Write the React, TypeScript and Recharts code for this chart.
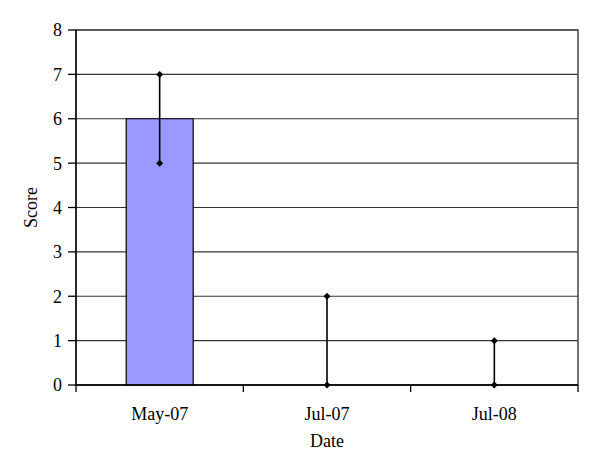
import {
  ComposedChart,
  Bar,
  ErrorBar,
  Scatter,
  XAxis,
  YAxis,
  CartesianGrid,
  ReferenceArea,
  Label,
} from "recharts";

const dates = ["May-07", "Jul-07", "Jul-08"];
const scores = [6, 0, 0];
const lowBounds = [5, 0, 0];
const highBounds = [7, 2, 1];
const yTicks = [0, 1, 2, 3, 4, 5, 6, 7, 8];

const data = dates.map((date, i) => ({
  date,
  score: scores[i],
  low: lowBounds[i],
  high: highBounds[i],
  err: [scores[i] - lowBounds[i], highBounds[i] - scores[i]],
}));

const FONT = "'Liberation Serif', 'DejaVu Serif', serif";

function Diamond(props: any) {
  const { cx, cy } = props;
  if (cx == null || cy == null) return null;
  const r = 3.5;
  return (
    <polygon
      points={`${cx},${cy - r} ${cx + r},${cy} ${cx},${cy + r} ${cx - r},${cy}`}
      fill="#000"
    />
  );
}

const Empty = () => null;

function DateTick(props: any) {
  const { x, y, payload, index } = props;
  const half = payload?.offset ?? 0;
  return (
    <g>
      {index === 0 && (
        <line x1={x - half} y1={y - 8} x2={x - half} y2={y - 1} stroke="#000" strokeWidth={1.3} />
      )}
      <line x1={x + half} y1={y - 8} x2={x + half} y2={y - 1} stroke="#000" strokeWidth={1.3} />
      <text
        x={x}
        y={y + 27}
        textAnchor="middle"
        fontFamily={FONT}
        fontSize={18}
        fill="#000"
      >
        {payload.value}
      </text>
    </g>
  );
}

export default function App() {
  return (
    <div style={{ position: "absolute", left: 0, top: 0, background: "#fff" }}>
      <ComposedChart
        width={600}
        height={473}
        data={data}
        margin={{ top: 30, right: 22, left: 0, bottom: 0 }}
        barCategoryGap="30%"
      >
        <CartesianGrid vertical={false} stroke="#333" strokeWidth={1.2} />
        <ReferenceArea
          y1={0}
          y2={8}
          fill="none"
          stroke="#444"
          strokeWidth={1.5}
          ifOverflow="visible"
        />
        <XAxis
          dataKey="date"
          height={88}
          tickLine={false}
          axisLine={{ stroke: "#000", strokeWidth: 1.3 }}
          tick={<DateTick />}
          interval={0}
        >
          <Label
            value="Date"
            position="insideTop"
            offset={49}
            fill="#000"
            stroke="none"
            style={{ fontFamily: FONT, fontSize: 18, fill: "#000" }}
          />
        </XAxis>
        <YAxis
          width={76}
          domain={[0, 8]}
          ticks={yTicks}
          interval={0}
          tickSize={8}
          tickMargin={6}
          tickLine={{ stroke: "#000", strokeWidth: 1.3 }}
          axisLine={{ stroke: "#000", strokeWidth: 1.3 }}
          tick={{ fontFamily: FONT, fontSize: 18, fill: "#000" }}
        >
          <Label
            value="Score"
            angle={-90}
            position="insideLeft"
            offset={31}
            fill="#000"
            stroke="none"
            style={{ fontFamily: FONT, fontSize: 18, fill: "#000", textAnchor: "middle" }}
          />
        </YAxis>
        <Bar
          dataKey="score"
          fill="#9999ff"
          stroke="#000"
          strokeWidth={1.2}
          isAnimationActive={false}
        />
        <Scatter dataKey="score" shape={<Empty />} isAnimationActive={false}>
          <ErrorBar dataKey="err" direction="y" width={0} stroke="#000" strokeWidth={1.6} />
        </Scatter>
        <Scatter dataKey="low" shape={<Diamond />} isAnimationActive={false} />
        <Scatter dataKey="high" shape={<Diamond />} isAnimationActive={false} />
      </ComposedChart>
    </div>
  );
}
